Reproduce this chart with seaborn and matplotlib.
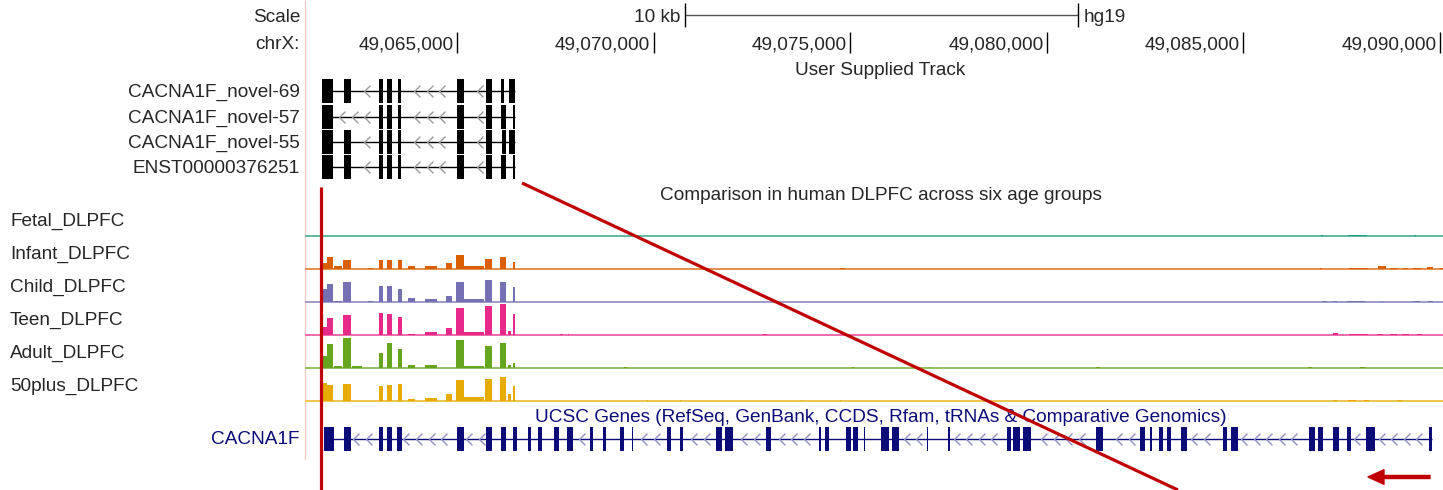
import matplotlib
matplotlib.use("Agg")
import matplotlib.pyplot as plt
import seaborn as sns
import numpy as np
from matplotlib.path import Path

# ---------------- data ----------------
view_start = 49061135
view_end = 49090074
ruler_ticks = [49065000, 49070000, 49075000, 49080000, 49085000, 49090000]
scale_bar_start = 49070790
scale_bar_len = 10000  # 10 kb

iso_names = ["CACNA1F_novel-69", "CACNA1F_novel-57", "CACNA1F_novel-55", "ENST00000376251"]
novel69_exons = [(49061575, 49061854), (49062119, 49062304), (49063009, 49063118), (49063228, 49063347),
                 (49063492, 49063584), (49065008, 49065178), (49065745, 49065882), (49066127, 49066195),
                 (49066322, 49066467)]
novel57_exons = [(49061575, 49061854), (49063009, 49063118), (49063228, 49063347),
                 (49063492, 49063584), (49065008, 49065178), (49065745, 49065882), (49066127, 49066254),
                 (49066416, 49066467)]
novel55_exons = [(49061575, 49061854), (49062119, 49062304), (49063009, 49063118), (49063228, 49063347),
                 (49063492, 49063584), (49065008, 49065178), (49065745, 49065882), (49066152, 49066238),
                 (49066322, 49066467)]
enst_exons = [(49061575, 49061854), (49062119, 49062304), (49063009, 49063118), (49063228, 49063347),
              (49063492, 49063584), (49065008, 49065178), (49065745, 49065882), (49066127, 49066254),
              (49066416, 49066467)]

gene_name = "CACNA1F"
gene_exons = [(49061618, 49061864), (49062119, 49062304), (49063009, 49063118), (49063228, 49063347),
              (49063482, 49063594), (49065008, 49065178), (49065745, 49065882), (49066119, 49066254),
              (49066416, 49066518), (49066798, 49066889), (49067052, 49067154), (49067474, 49067586),
              (49067805, 49067942), (49068375, 49068466), (49068705, 49068789), (49069145, 49069254),
              (49069445, 49069475), (49070333, 49070434), (49070671, 49070755), (49071579, 49071747),
              (49071815, 49072011), (49072858, 49072993), (49074213, 49074249), (49074351, 49074460),
              (49074892, 49075012), (49075063, 49075205), (49075353, 49075388), (49075782, 49075978),
              (49076062, 49076232), (49076944, 49076985), (49077494, 49077537), (49078979, 49079088),
              (49079147, 49079317), (49079401, 49079589), (49081242, 49081435), (49082369, 49082496),
              (49082623, 49082666), (49082852, 49082961), (49083048, 49083157), (49083411, 49083572),
              (49084487, 49084573), (49084675, 49084868), (49086674, 49086819), (49086888, 49087030),
              (49087284, 49087429), (49087625, 49087734), (49088108, 49088345), (49089718, 49089787)]

samples = ["Fetal_DLPFC", "Infant_DLPFC", "Child_DLPFC", "Teen_DLPFC", "Adult_DLPFC", "50plus_DLPFC"]
cov_bin_start = [49061567, 49061694, 49061872, 49062114, 49062330, 49062737, 49063009, 49063228, 49063492,
                 49063754, 49064186, 49064720, 49064975, 49065178, 49065712, 49066093, 49066297, 49066416]
cov_bin_end = [49061694, 49061859, 49062076, 49062304, 49062584, 49062864, 49063118, 49063347, 49063601,
               49063932, 49064491, 49064873, 49065178, 49065687, 49065890, 49066246, 49066373, 49066475]
cov_fetal = [0, 0, 0, 0, 0, 0, 0, 0, 0, 0, 0, 0, 0, 0, 0, 0, 0, 0]
cov_infant = [6, 12, 2.7, 9, 0, 1, 9, 9, 8.7, 2.7, 3.3, 6, 14, 2.7, 10, 12, 0, 6.7]
cov_child = [13, 18, 1.3, 20, 0, 1, 15.7, 15.7, 12.7, 4, 3.3, 6, 20, 2.7, 22, 20, 0.5, 15]
cov_teen = [8, 16.7, 0, 20, 0, 0, 22, 21, 18, 1, 2.7, 6.7, 26.7, 3.3, 29, 31, 4, 21]
cov_adult = [12, 24, 1.7, 29.7, 1.7, 0, 15, 25, 18.7, 2.7, 2.7, 0, 28, 1.7, 22, 24.7, 3.3, 5]
cov_50plus = [18, 16, 0, 17, 0, 0, 15, 16, 17, 2, 2.7, 6.7, 21, 4, 22, 24, 6.7, 15]

blips_fetal = [(49086972, 49087010, 1), (49087658, 49088141, 1.5), (49089337, 49089375, 1)]
blips_infant = [(49074740, 49074867, 1.5), (49086946, 49086997, 1), (49087684, 49088167, 1),
                (49088421, 49088624, 3), (49088726, 49088930, 1.5), (49089057, 49089184, 1),
                (49089311, 49089540, 1.5), (49089667, 49089820, 2.5), (49089998, 49090074, 1)]
blips_child = [(49087000, 49087124, 1), (49087277, 49087378, 1), (49087633, 49088090, 1.5),
               (49088523, 49088548, 1.5), (49089311, 49089489, 1), (49089693, 49089820, 1.5)]
blips_teen = [(49067619, 49067696, 1), (49067823, 49067861, 1), (49072782, 49072883, 1.5),
              (49087277, 49087404, 2), (49087684, 49088167, 1.5), (49088396, 49088548, 1),
              (49088726, 49088904, 1), (49089031, 49089209, 1.5), (49089413, 49089540, 1)]
blips_adult = [(49069247, 49069323, 1.5), (49075045, 49075096, 1.5), (49077003, 49077041, 1),
               (49081250, 49081351, 1), (49086641, 49086743, 1), (49087963, 49088090, 1)]
blips_50plus = [(49069832, 49069870, 1.5), (49070671, 49070709, 1), (49073748, 49073786, 1.5),
                (49074740, 49074778, 1.5), (49087277, 49087378, 1), (49087658, 49087862, 1.5),
                (49088065, 49088192, 1), (49088904, 49089031, 1)]

# annotation overlay (genomic x)
mark_line_x = 49061541
diag_from_x, diag_to_x = 49066653, 49083335
arrow_from_x, arrow_to_x = 49089743, 49088167

# ---------------- style ----------------
sns.set_theme(style="white")
plt.rcParams['font.family'] = ['Liberation Sans', 'DejaVu Sans']
palette = sns.color_palette("Dark2", 6)
NAVY = "#0c0c78"
RED = "#c00000"
FS = 13.7

fig = plt.figure(figsize=(14.43, 4.90), dpi=100)
lab = fig.add_axes([0, 0, 1, 1])
lab.set_xlim(0, 1443)
lab.set_ylim(490, 0)
lab.axis('off')
ax = fig.add_axes([305 / 1443, 0, 1138 / 1443, 1])
ax.set_xlim(view_start, view_end)
ax.set_ylim(490, 0)
ax.axis('off')

# left border
lab.vlines(305, 0, 460, color="#f6c8c8", lw=1)

# ruler
lab.text(300, 22, "Scale", ha='right', va='baseline', fontsize=FS)
lab.text(300, 49, "chrX:", ha='right', va='baseline', fontsize=FS)
ax.hlines(15, scale_bar_start, scale_bar_start + scale_bar_len, color="#555555", lw=1)
ax.vlines([scale_bar_start, scale_bar_start + scale_bar_len], 3, 27, color="black", lw=1)
ax.annotate("10 kb", xy=(scale_bar_start, 22), xytext=(-3, 0), textcoords='offset points',
            ha='right', va='baseline', fontsize=FS)
ax.annotate("hg19", xy=(scale_bar_start + scale_bar_len, 22), xytext=(4, 0), textcoords='offset points',
            ha='left', va='baseline', fontsize=FS)
ax.vlines(ruler_ticks, 32, 53, color="black", lw=1)
for t in ruler_ticks:
    ax.annotate(f"{t:,}", xy=(t, 49), xytext=(-2.5, 0), textcoords='offset points',
                ha='right', va='baseline', fontsize=FS)

# track titles, centred a little right of the window middle (as in the browser image)
lab.text(880.5, 75, "User Supplied Track", ha='center', va='baseline', fontsize=FS)
lab.text(880.5, 200, "Comparison in human DLPFC across six age groups", ha='center', va='baseline',
         fontsize=FS)
lab.text(881, 422, "UCSC Genes (RefSeq, GenBank, CCDS, Rfam, tRNAs & Comparative Genomics)",
         ha='center', va='baseline', fontsize=FS, color=NAVY)

chev = Path([(0.5, 1), (-0.5, 0), (0.5, -1)], [Path.MOVETO, Path.LINETO, Path.LINETO])


def draw_transcript(exons, yc, half, color, chev_color, ms):
    starts = np.array([s for s, e in exons])
    ends = np.array([e for s, e in exons])
    ax.hlines(yc, starts.min(), ends.max(), color=color, lw=1)
    grid = np.arange(starts.min() + 190, ends.max(), 318)
    keep = [g for g in grid if np.all((g < starts - 110) | (g > ends + 110))]
    ax.plot(keep, [yc] * len(keep), ls='none', marker=chev, ms=ms, mfc='none',
            mec=chev_color, mew=1)
    ax.bar(starts, 2 * half, width=ends - starts, bottom=yc - half, align='edge',
           color=color, linewidth=0)


iso_exons = [novel69_exons, novel57_exons, novel55_exons, enst_exons]
for i, (name, ex) in enumerate(zip(iso_names, iso_exons)):
    yc = 91.3 + 25.3 * i
    draw_transcript(ex, yc, 12, "black", "#9a9a9a", 8.5)
    lab.text(300, yc + 6, name, ha='right', va='baseline', fontsize=FS)

# coverage tracks
covs = [cov_fetal, cov_infant, cov_child, cov_teen, cov_adult, cov_50plus]
blips = [blips_fetal, blips_infant, blips_child, blips_teen, blips_adult, blips_50plus]
for i, (name, cov, bl) in enumerate(zip(samples, covs, blips)):
    col = np.array(palette[i])
    light = col + (1 - col) * 0.3
    base = 236 + 33 * i
    ax.hlines(base, view_start, view_end, color=light, lw=1.4, zorder=1)
    st = np.array(cov_bin_start)
    w = np.array(cov_bin_end) - st
    ax.bar(st, -np.array(cov, dtype=float), width=w, bottom=base, align='edge', color=col,
           linewidth=0, zorder=2)
    if bl:
        bs = np.array([b[0] for b in bl])
        be = np.array([b[1] for b in bl])
        bh = np.array([b[2] for b in bl], dtype=float)
        ax.bar(bs, -bh, width=be - bs, bottom=base, align='edge', color=col, linewidth=0, zorder=2)
    lab.text(10, base - 10, name, ha='left', va='baseline', fontsize=FS)

# gene track
draw_transcript(gene_exons, 439, 12, NAVY, "#8f8fc4", 8.5)
lab.text(300, 444, gene_name, ha='right', va='baseline', fontsize=FS, color=NAVY)

# red annotations
ax.vlines(mark_line_x, 187, 490, color=RED, lw=2.3, zorder=5)
ax.plot([diag_from_x, diag_to_x], [183, 490], color=RED, lw=2.3, zorder=5, solid_capstyle='butt')
ax.annotate("", xy=(arrow_to_x, 477), xytext=(arrow_from_x, 477),
            arrowprops=dict(facecolor=RED, edgecolor=RED, width=2.2, headwidth=10.5,
                            headlength=11.5, shrink=0), zorder=5)

fig.savefig("out.png", dpi=100)
